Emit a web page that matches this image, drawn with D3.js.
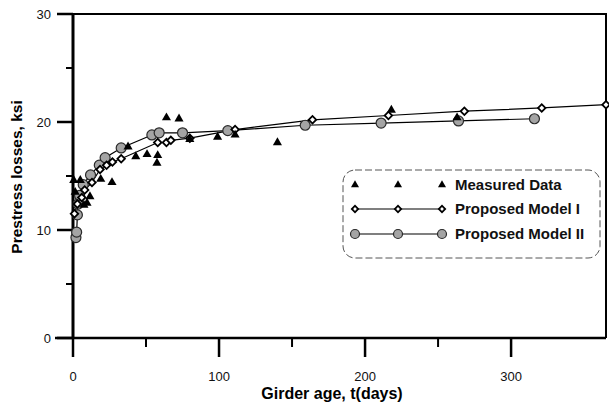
<!DOCTYPE html>
<html>
<head>
<meta charset="utf-8">
<script src="https://cdn.jsdelivr.net/npm/d3@7"></script>
<style>
  body { margin: 0; background: #fff; }
  svg { display: block; font-family: "Liberation Sans", Arial, sans-serif; }
</style>
</head>
<body>
<div class="chart"></div>
<script>
// measured prestress losses (t in days, ksi)
var measuredT = [0.5, 1.5, 5, 7.5, 9.6, 11.6, 19, 26.7, 37.7, 43, 50.7, 57.5, 58, 64, 72.6, 80, 99, 111, 140, 218, 263];
var measuredV = [14.6, 13.5, 14.6, 12.3, 12.5, 13.1, 14.7, 14.4, 17.7, 16.8, 17.0, 16.2, 16.9, 20.4, 20.3, 18.4, 18.6, 18.8, 18.1, 21.1, 20.4];

// proposed model I
var model1T = [1, 3, 6, 8, 13, 18.5, 23, 27, 33, 58, 64, 67, 80, 111, 164, 216, 268, 321, 365];
var model1V = [11.5, 12.4, 13.0, 13.7, 14.4, 15.6, 16.0, 16.3, 16.6, 18.1, 18.1, 18.3, 18.5, 19.3, 20.2, 20.6, 21.0, 21.3, 21.6];

// proposed model II
var model2T = [2, 2.5, 3, 3.5, 4.5, 7, 12, 18, 22, 33, 54, 59, 75, 106, 159, 211, 264, 316];
var model2V = [9.3, 9.8, 11.4, 12.4, 13.2, 14.2, 15.1, 16.0, 16.7, 17.6, 18.8, 19.0, 19.0, 19.2, 19.7, 19.9, 20.1, 20.3];

var xTicks = [0, 100, 200, 300];
var xMinor = [50, 150, 250];
var yTicks = [0, 10, 20, 30];
var yMinor = [5, 15, 25];
var legendLabels = ["Measured Data", "Proposed Model I", "Proposed Model II"];

var zip = (ts, vs) => ts.map((t, i) => ({ t: t, v: vs[i] }));
var measured = zip(measuredT, measuredV);
var model1 = zip(model1T, model1V);
var model2 = zip(model2T, model2V);

var width = 609, height = 403;
var x = d3.scaleLinear().domain([0, 365]).range([73, 606]);
var y = d3.scaleLinear().domain([0, 30]).range([338, 14]);

const svg = d3.select(".chart").append("svg")
    .attr("width", width)
    .attr("height", height);

// frame (top and right)
svg.append("path")
    .attr("d", `M60,${y(30)}H${x(365)}V${y(0)}`)
    .attr("fill", "none")
    .attr("stroke", "#000")
    .attr("stroke-width", 2);

// x axis
var xAxis = svg.append("g");
xAxis.append("line")
    .attr("x1", 55).attr("x2", x(365))
    .attr("y1", y(0)).attr("y2", y(0))
    .attr("stroke", "#000").attr("stroke-width", 2.5);
xAxis.selectAll(".major")
    .data(xTicks)
    .join("line")
    .attr("x1", d => x(d)).attr("x2", d => x(d))
    .attr("y1", y(0)).attr("y2", y(0) + 19)
    .attr("stroke", "#000").attr("stroke-width", 2.5);
xAxis.selectAll(".minor")
    .data(xMinor)
    .join("line")
    .attr("x1", d => x(d)).attr("x2", d => x(d))
    .attr("y1", y(0)).attr("y2", y(0) + 9)
    .attr("stroke", "#000").attr("stroke-width", 2);
xAxis.selectAll("text")
    .data(xTicks)
    .join("text")
    .attr("x", d => x(d))
    .attr("y", 381)
    .attr("text-anchor", "middle")
    .attr("font-size", 13)
    .attr("fill", "#111")
    .text(d => d);

// y axis
var yAxis = svg.append("g");
yAxis.append("line")
    .attr("x1", x(0)).attr("x2", x(0))
    .attr("y1", y(30)).attr("y2", y(0))
    .attr("stroke", "#000").attr("stroke-width", 3);
yAxis.selectAll(".major")
    .data(yTicks)
    .join("line")
    .attr("x1", 57).attr("x2", x(0))
    .attr("y1", d => y(d)).attr("y2", d => y(d))
    .attr("stroke", "#000").attr("stroke-width", 2.5);
yAxis.selectAll(".minor")
    .data(yMinor)
    .join("line")
    .attr("x1", 66).attr("x2", x(0))
    .attr("y1", d => y(d)).attr("y2", d => y(d))
    .attr("stroke", "#000").attr("stroke-width", 2);
yAxis.selectAll("text")
    .data(yTicks)
    .join("text")
    .attr("x", 51)
    .attr("y", d => y(d))
    .attr("dy", "0.36em")
    .attr("text-anchor", "end")
    .attr("font-size", 13)
    .attr("fill", "#111")
    .text(d => d);

// axis titles
svg.append("text")
    .attr("x", 332).attr("y", 399)
    .attr("text-anchor", "middle")
    .attr("font-size", 16).attr("font-weight", "bold")
    .text("Girder age, t(days)");
svg.append("text")
    .attr("transform", "translate(22,177) rotate(-90)")
    .attr("text-anchor", "middle")
    .attr("font-size", 15.5).attr("font-weight", "bold")
    .text("Prestress losses, ksi");

var line = d3.line().x(d => x(d.t)).y(d => y(d.v));
var triangle = d3.symbol().type(d3.symbolTriangle).size(36);
var diamond = d3.symbol().type(d3.symbolSquare).size(28);

function drawTriangles(g, data) {
    g.selectAll("path")
        .data(data)
        .join("path")
        .attr("transform", d => `translate(${x(d.t)},${y(d.v)})`)
        .attr("d", triangle)
        .attr("fill", "#000");
}
function drawDiamonds(g, data) {
    g.selectAll("path")
        .data(data)
        .join("path")
        .attr("transform", d => `translate(${x(d.t)},${y(d.v)}) rotate(45)`)
        .attr("d", diamond)
        .attr("fill", "#fff")
        .attr("stroke", "#000")
        .attr("stroke-width", 1.8);
}
function drawCircles(g, data) {
    g.selectAll("circle")
        .data(data)
        .join("circle")
        .attr("cx", d => x(d.t))
        .attr("cy", d => y(d.v))
        .attr("r", 5)
        .attr("fill", "#a4a4a4")
        .attr("stroke", "#2a2a2a")
        .attr("stroke-width", 1.2);
}

// model lines
svg.append("path").datum(model2)
    .attr("d", line).attr("fill", "none")
    .attr("stroke", "#000").attr("stroke-width", 1.2);
svg.append("path").datum(model1)
    .attr("d", line).attr("fill", "none")
    .attr("stroke", "#000").attr("stroke-width", 1.2);

drawCircles(svg.append("g"), model2);
drawDiamonds(svg.append("g"), model1);
drawTriangles(svg.append("g"), measured);

// legend
var legend = svg.append("g");
legend.append("rect")
    .attr("x", 343).attr("y", 170)
    .attr("width", 257).attr("height", 88)
    .attr("rx", 12)
    .attr("fill", "#fff")
    .attr("stroke", "#555")
    .attr("stroke-width", 1)
    .attr("stroke-dasharray", "7,3");

var legendX = [355, 398, 442];
var rowY = [185, 209, 234];
var legendPts = legendX.map(lx => ({ px: lx }));

legend.selectAll(".tri")
    .data(legendPts)
    .join("path")
    .attr("transform", d => `translate(${d.px},${rowY[0]})`)
    .attr("d", d3.symbol().type(d3.symbolTriangle).size(28))
    .attr("fill", "#000");

legend.append("line")
    .attr("x1", legendX[0]).attr("x2", legendX[2])
    .attr("y1", rowY[1]).attr("y2", rowY[1])
    .attr("stroke", "#000").attr("stroke-width", 1.2);
legend.selectAll(".dia")
    .data(legendPts)
    .join("path")
    .attr("transform", d => `translate(${d.px},${rowY[1]}) rotate(45)`)
    .attr("d", d3.symbol().type(d3.symbolSquare).size(20))
    .attr("fill", "#fff").attr("stroke", "#000").attr("stroke-width", 1.8);

legend.append("line")
    .attr("x1", legendX[0]).attr("x2", legendX[2])
    .attr("y1", rowY[2]).attr("y2", rowY[2])
    .attr("stroke", "#000").attr("stroke-width", 1.2);
legend.selectAll(".cir")
    .data(legendPts)
    .join("circle")
    .attr("cx", d => d.px).attr("cy", rowY[2])
    .attr("r", 4.5)
    .attr("fill", "#a4a4a4").attr("stroke", "#2a2a2a").attr("stroke-width", 1.2);

legend.selectAll("text")
    .data(legendLabels)
    .join("text")
    .attr("x", 455)
    .attr("y", (d, i) => rowY[i])
    .attr("dy", "0.36em")
    .attr("font-size", 15)
    .attr("font-weight", "bold")
    .attr("fill", "#111")
    .text(d => d);
</script>
</body>
</html>
